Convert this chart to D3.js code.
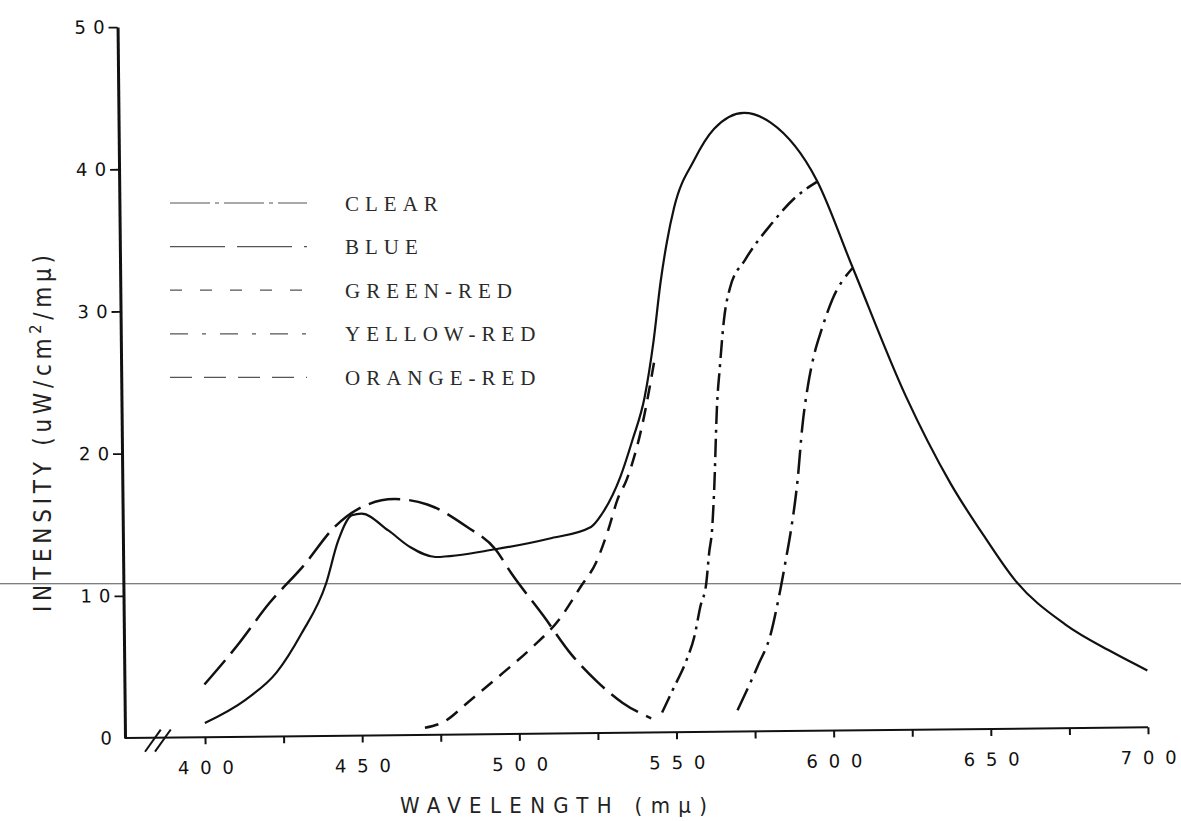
<!DOCTYPE html>
<html>
<head>
<meta charset="utf-8">
<script src="https://d3js.org/d3.v7.min.js"></script>
<style>
  body { margin: 0; background: #fff; }
  svg { display: block; }
</style>
</head>
<body>
<div id="chart"></div>
<script>
// ---- data ----
var seriesNames = ['CLEAR', 'BLUE', 'GREEN-RED', 'YELLOW-RED', 'ORANGE-RED'];

var clearNm  = [400, 413, 423, 431, 439, 443, 447.5, 450.5, 459, 466, 474, 493, 510, 523.5, 527, 533, 537, 541, 544, 546.4, 548.6, 551, 557.5, 564, 573.5, 582, 596.5, 607.5, 624, 638, 649, 658, 674, 689, 700];
var clearVal = [1.0, 2.6, 4.5, 7.2, 10.7, 13.7, 15.5, 15.6, 14.4, 13.2, 12.5, 13.0, 13.7, 14.5, 15.4, 18.0, 20.6, 23.6, 27.5, 31.6, 34.5, 36.9, 40.2, 42.4, 43.5, 42.8, 38.7, 32.6, 23.5, 17.3, 13.4, 10.5, 7.3, 5.3, 4.0];

var blueNm  = [400, 410.5, 421, 432, 442, 451, 461, 471.5, 484, 493, 498, 508, 517, 525, 533, 542];
var blueVal = [3.7, 6.4, 9.4, 12.0, 14.7, 16.1, 16.6, 16.2, 14.6, 13.0, 11.3, 8.3, 5.5, 3.6, 2.1, 1.0];

var greenNm  = [470, 476, 484, 495, 504.5, 513, 520, 525, 529, 532, 535, 540, 544.5];
var greenVal = [0.5, 0.9, 2.3, 4.3, 6.1, 8.0, 10.3, 12.0, 14.3, 16.4, 17.8, 21.5, 26.5];

var yellowNm  = [545.5, 549, 553.5, 556, 558, 560, 561, 562, 562.8, 564, 565, 566.5, 568.5, 573.5, 582, 589.5, 596.5];
var yellowVal = [1.4, 3.0, 5.1, 6.7, 8.8, 10.5, 12.6, 14.2, 17.0, 23.0, 25.6, 29.0, 31.2, 33.2, 35.7, 37.5, 38.6];

var orangeNm  = [569.5, 576.5, 580, 583, 585.5, 587, 589.5, 591, 593, 595, 597.5, 601, 607.5];
var orangeVal = [1.5, 4.8, 6.6, 9.4, 12.2, 14.0, 17.9, 21.3, 24.3, 26.4, 28.2, 30.3, 32.5];

var xTicks = [400, 425, 450, 475, 500, 525, 550, 575, 600, 625, 650, 675, 700];
var xTickLabels = [400, 450, 500, 550, 600, 650, 700];
var yTicks = [0, 10, 20, 30, 40, 50];
var guideValue = 10.85;   // stray ruled line across the scan

// ---- styles ----
var plotDash   = { 'CLEAR': null, 'BLUE': '32 9', 'GREEN-RED': '14 9', 'YELLOW-RED': '18 6 3 6', 'ORANGE-RED': '24 7 3 7' };
var legendDash = { 'CLEAR': '40 5 4 5', 'BLUE': '55 12', 'GREEN-RED': '12 18', 'YELLOW-RED': '18 14 4 14', 'ORANGE-RED': '22 12' };
var ink = '#111';

var W = 1181, H = 821;
var origin = { x: 125, y: 738 };

var x = d3.scaleLinear().domain([400, 700]).range([80, 1023]);
var y = d3.scaleLinear().domain([0, 50]).range([0, -711]);

var svg = d3.select('#chart').append('svg')
  .attr('width', W)
  .attr('height', H);

// ruled line that runs across the whole page
svg.append('line')
  .attr('x1', 0).attr('x2', W)
  .attr('y1', origin.y + y(guideValue)).attr('y2', origin.y + y(guideValue))
  .attr('stroke', '#555')
  .attr('stroke-width', 1.1);

// the scan is slightly tilted
var plot = svg.append('g')
  .attr('transform', 'translate(' + origin.x + ',' + origin.y + ') rotate(-0.6)');

// x axis
plot.append('line')
  .attr('x1', 0).attr('x2', x(700))
  .attr('y1', 0).attr('y2', 0)
  .attr('stroke', ink)
  .attr('stroke-width', 2);

var xAxis = d3.axisBottom(x)
  .tickValues(xTicks)
  .tickSize(7)
  .tickSizeOuter(0)
  .tickPadding(17)
  .tickFormat(function(d) { return xTickLabels.indexOf(d) >= 0 ? d : ''; });

var gx = plot.append('g').call(xAxis);
gx.select('.domain').remove();
gx.selectAll('.tick line').attr('stroke', ink).attr('stroke-width', 2);
gx.selectAll('.tick text')
  .filter(function(d) { return xTickLabels.indexOf(d) >= 0; })
  .attr('font-family', 'DejaVu Sans, sans-serif')
  .attr('font-size', 18)
  .attr('textLength', 56)
  .attr('lengthAdjust', 'spacing')
  .attr('fill', ink);

// axis break
var bx = x(385);
[-5, 5].forEach(function(o) {
  plot.append('line')
    .attr('x1', bx + o - 8).attr('y1', 14)
    .attr('x2', bx + o + 8).attr('y2', -8)
    .attr('stroke', ink)
    .attr('stroke-width', 2);
});

// y axis
var yAxis = d3.axisLeft(y)
  .tickValues(yTicks)
  .tickSize(9)
  .tickSizeOuter(0);

var gy = plot.append('g').call(yAxis);
gy.select('.domain').attr('stroke', ink).attr('stroke-width', 3);
gy.selectAll('.tick line').attr('stroke', ink).attr('stroke-width', 1.8);
gy.selectAll('.tick').filter(function(d) { return d === 0; }).select('line').remove();
gy.selectAll('.tick text')
  .attr('x', -13)
  .attr('font-family', 'DejaVu Sans, sans-serif')
  .attr('font-size', 18)
  .attr('fill', ink);
gy.selectAll('.tick text')
  .filter(function(d) { return d > 0; })
  .attr('textLength', 30)
  .attr('lengthAdjust', 'spacing');

// curves
var series = [
  { name: 'CLEAR',      nm: clearNm,  val: clearVal },
  { name: 'BLUE',       nm: blueNm,   val: blueVal },
  { name: 'GREEN-RED',  nm: greenNm,  val: greenVal },
  { name: 'YELLOW-RED', nm: yellowNm, val: yellowVal },
  { name: 'ORANGE-RED', nm: orangeNm, val: orangeVal }
];

var curve = d3.line()
  .curve(d3.curveMonotoneX)
  .x(function(d) { return x(d[0]); })
  .y(function(d) { return y(d[1]); });

series.forEach(function(s) {
  plot.append('path')
    .datum(d3.zip(s.nm, s.val))
    .attr('d', curve)
    .attr('fill', 'none')
    .attr('stroke', ink)
    .attr('stroke-width', s.name === 'CLEAR' ? 2.2 : 2.5)
    .attr('stroke-dasharray', plotDash[s.name]);
});

// legend
var legend = svg.append('g');
seriesNames.forEach(function(name, i) {
  var cy = 203 + i * 43.6;
  legend.append('line')
    .attr('x1', 170).attr('x2', 307)
    .attr('y1', cy).attr('y2', cy)
    .attr('stroke', '#555')
    .attr('stroke-width', 1.2)
    .attr('stroke-dasharray', legendDash[name]);
  legend.append('text')
    .attr('x', 345)
    .attr('y', cy + 7.5)
    .attr('font-family', 'Liberation Serif, serif')
    .attr('font-size', 21)
    .attr('letter-spacing', 6)
    .attr('fill', '#2a2a2a')
    .text(name);
});

// axis titles
var yTitle = svg.append('text')
  .attr('transform', 'translate(51,612) rotate(-90)')
  .attr('x', 0).attr('y', 0)
  .attr('font-family', 'DejaVu Sans Condensed, DejaVu Sans, sans-serif')
  .attr('font-size', 24)
  .attr('textLength', 357)
  .attr('lengthAdjust', 'spacing')
  .attr('fill', '#222');
yTitle.append('tspan').text('INTENSITY (uW/cm');
yTitle.append('tspan').attr('dy', -10).attr('font-size', 16).text('2');
yTitle.append('tspan').attr('dy', 10).text('/mμ)');

svg.append('text')
  .attr('x', 400).attr('y', 813)
  .attr('font-family', 'DejaVu Sans Condensed, DejaVu Sans, sans-serif')
  .attr('font-size', 22)
  .attr('textLength', 307)
  .attr('lengthAdjust', 'spacing')
  .attr('fill', '#222')
  .text('WAVELENGTH (mμ)');
</script>
</body>
</html>
